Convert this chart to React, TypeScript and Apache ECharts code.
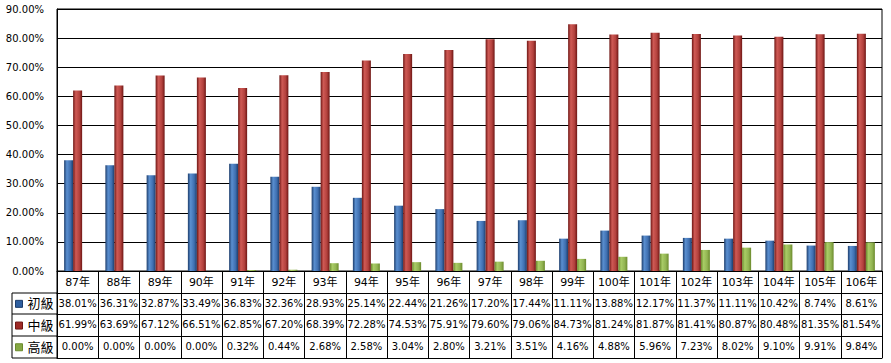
import React, { useEffect, useRef } from "react";
import * as echarts from "echarts";

const years = ["87年","88年","89年","90年","91年","92年","93年","94年","95年","96年","97年","98年","99年","100年","101年","102年","103年","104年","105年","106年"];
const junior = [38.01,36.31,32.87,33.49,36.83,32.36,28.93,25.14,22.44,21.26,17.20,17.44,11.11,13.88,12.17,11.37,11.11,10.42,8.74,8.61];
const middle = [61.99,63.69,67.12,66.51,62.85,67.20,68.39,72.28,74.53,75.91,79.60,79.06,84.73,81.24,81.87,81.41,80.87,80.48,81.35,81.54];
const senior = [0.00,0.00,0.00,0.00,0.32,0.44,2.68,2.58,3.04,2.80,3.21,3.51,4.16,4.88,5.96,7.23,8.02,9.10,9.91,9.84];
const seriesNames = ["初級","中級","高級"];
const yTicks = { min: 0, max: 90, interval: 10 };

const FONT = "'DejaVu Sans', 'Noto Sans CJK TC', sans-serif";

function grad(dark: string, light: string, mid: string) {
  return new echarts.graphic.LinearGradient(0, 0, 1, 0, [
    { offset: 0, color: dark },
    { offset: 0.3, color: light },
    { offset: 0.7, color: mid },
    { offset: 1, color: dark },
  ]);
}

export default function App() {
  const ref = useRef<HTMLDivElement>(null);
  useEffect(() => {
    document.body.style.margin = "0";
    const chart = echarts.init(ref.current!, null, { renderer: "svg" });
    const fmt = (v: number) => v.toFixed(2) + "%";
    const tableAxis = (vals: string[], offset: number, tickLen: number, show = true) => ({
      type: "category",
      position: "bottom",
      data: vals,
      offset,
      boundaryGap: true,
      axisLine: { show: true, lineStyle: { color: "#000", width: 1 } },
      axisTick: { show: show, length: tickLen, interval: 0, lineStyle: { color: "#000" } },
      axisLabel: { show: show, interval: 0, margin: 5, color: "#000", fontSize: 10, fontFamily: FONT },
      splitLine: { show: false },
    });
    const colors = [
      { dark: "#1d3d6b", light: "#5a8fd0", mid: "#3f6fb0", solid: "#2f5f9f" },
      { dark: "#6e1614", light: "#cf5a55", mid: "#b3413d", solid: "#9e2a26" },
      { dark: "#6b8a2c", light: "#a9cc66", mid: "#92b452", solid: "#86a844" },
    ];
    const datas = [junior, middle, senior];
    chart.setOption({
      animation: false,
      backgroundColor: "#fff",
      grid: { left: 57, right: 9, top: 9, bottom: 92, show: true, borderColor: "#000", borderWidth: 1, containLabel: false },
      legend: {
        orient: "vertical",
        left: 15,
        top: 293,
        padding: 0,
        itemGap: 0,
        itemWidth: 7,
        itemHeight: 7,
        icon: "rect",
        textStyle: { fontSize: 13, color: "#000", fontFamily: FONT, lineHeight: 21.7 },
        data: seriesNames.map((n, i) => ({
          name: n,
          itemStyle: { color: colors[i].solid, borderColor: colors[i].dark, borderWidth: 1 },
        })),
      },
      xAxis: [
        {
          type: "category",
          position: "bottom",
          data: years,
          boundaryGap: true,
          axisLine: { show: true, lineStyle: { color: "#000", width: 1 } },
          axisTick: { show: true, length: 22, interval: 0, lineStyle: { color: "#000" } },
          axisLabel: { interval: 0, margin: 6, color: "#000", fontSize: 11, fontFamily: FONT },
        },
        tableAxis(junior.map(fmt), 22, 21),
        tableAxis(middle.map(fmt), 43, 22),
        tableAxis(senior.map(fmt), 65, 22),
        tableAxis(years, 87, 0, false),
      ],
      yAxis: {
        type: "value",
        min: yTicks.min,
        max: yTicks.max,
        interval: yTicks.interval,
        axisLine: { show: true, lineStyle: { color: "#000" } },
        axisTick: { show: false },
        splitLine: { show: true, lineStyle: { color: "#000", width: 1 } },
        axisLabel: { margin: 13, color: "#000", fontSize: 10, fontFamily: FONT, formatter: (v: number) => v.toFixed(2) + "%" },
      },
      graphic: [
        { type: "line", shape: { x1: 12, y1: 293, x2: 57, y2: 293 }, style: { stroke: "#000", lineWidth: 1 } },
        { type: "line", shape: { x1: 12, y1: 314, x2: 57, y2: 314 }, style: { stroke: "#000", lineWidth: 1 } },
        { type: "line", shape: { x1: 12, y1: 336, x2: 57, y2: 336 }, style: { stroke: "#000", lineWidth: 1 } },
        { type: "line", shape: { x1: 12, y1: 358, x2: 57, y2: 358 }, style: { stroke: "#000", lineWidth: 1 } },
        { type: "line", shape: { x1: 12, y1: 293, x2: 12, y2: 358 }, style: { stroke: "#000", lineWidth: 1 } },
        { type: "line", shape: { x1: 57, y1: 271, x2: 57, y2: 358 }, style: { stroke: "#000", lineWidth: 1 } },
      ],
      series: datas.map((d, i) => ({
        name: seriesNames[i],
        type: "bar",
        data: d,
        barWidth: 9,
        barGap: "0%",
        itemStyle: { color: grad(colors[i].dark, colors[i].light, colors[i].mid) },
      })),
    });
    return () => chart.dispose();
  }, []);
  return <div ref={ref} style={{ width: 891, height: 363 }} />;
}
